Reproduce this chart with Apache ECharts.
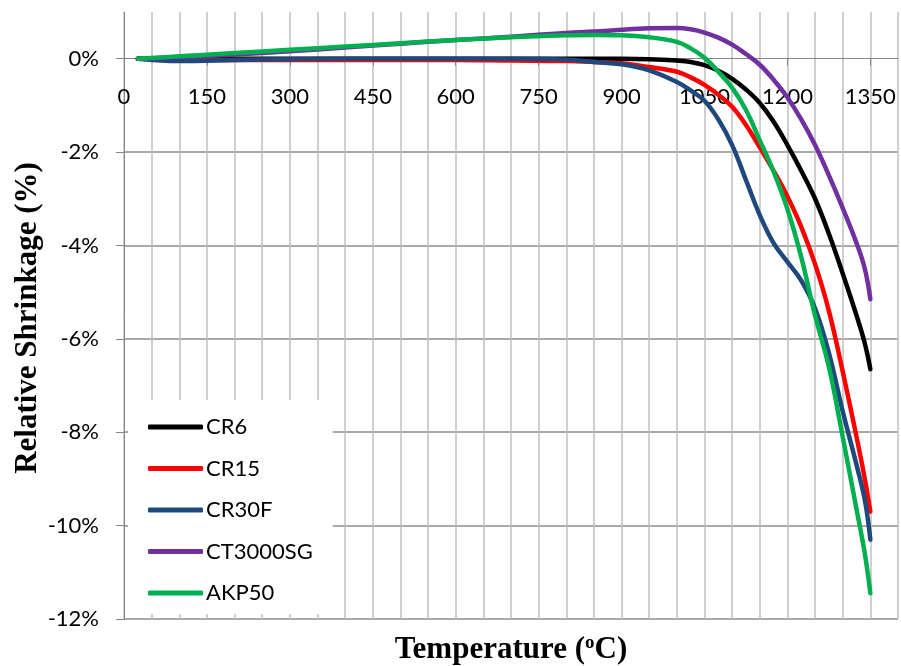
<!DOCTYPE html>
<html>
<head>
<meta charset="utf-8">
<script src="https://cdn.jsdelivr.net/npm/echarts@6/dist/echarts.min.js"></script>
<style>
html, body { margin: 0; padding: 0; background: #fff; }
#main { width: 901px; height: 666px; }
</style>
</head>
<body>
<div id="main"></div>
<script>
// temperature (oC) and relative shrinkage (%)
var temps = [25, 100, 200, 300, 400, 500, 600, 700, 800, 850, 900, 950, 1000, 1025, 1050, 1075, 1100, 1125, 1150, 1175, 1200, 1225, 1250, 1275, 1300, 1325, 1340, 1350];
var cr6 = [0, 0, 0, 0, 0, 0, 0, 0, 0, 0, 0, -0.01, -0.04, -0.07, -0.14, -0.26, -0.43, -0.66, -0.95, -1.35, -1.85, -2.4, -3.0, -3.75, -4.6, -5.5, -6.1, -6.65];
var cr15 = [0, -0.02, -0.03, -0.03, -0.03, -0.03, -0.03, -0.04, -0.05, -0.07, -0.1, -0.18, -0.28, -0.4, -0.56, -0.77, -1.03, -1.42, -1.9, -2.4, -2.95, -3.6, -4.4, -5.4, -6.7, -8.1, -9.0, -9.7];
var cr30f = [0, -0.05, -0.03, -0.01, 0, 0, 0, 0, -0.02, -0.07, -0.12, -0.25, -0.5, -0.68, -0.9, -1.3, -1.85, -2.6, -3.35, -3.95, -4.35, -4.75, -5.35, -6.3, -7.55, -8.7, -9.45, -10.3];
var ct3000sg = [0, 0.03, 0.09, 0.16, 0.24, 0.32, 0.4, 0.47, 0.55, 0.58, 0.62, 0.65, 0.66, 0.63, 0.56, 0.45, 0.3, 0.1, -0.13, -0.45, -0.83, -1.3, -1.85, -2.5, -3.2, -3.95, -4.5, -5.15];
var akp50 = [0, 0.05, 0.12, 0.19, 0.26, 0.33, 0.4, 0.46, 0.5, 0.51, 0.5, 0.46, 0.36, 0.22, 0.02, -0.28, -0.62, -1.1, -1.75, -2.42, -3.22, -4.25, -5.5, -6.6, -8.1, -9.65, -10.6, -11.45];

var xTicks = [0, 150, 300, 450, 600, 750, 900, 1050, 1200, 1350];
var yTicks = [-12, -10, -8, -6, -4, -2, 0];

var names = ['CR6', 'CR15', 'CR30F', 'CT3000SG', 'AKP50'];
var colors = ['#000000', '#ff0000', '#1f497d', '#7030a0', '#00b050'];
var values = [cr6, cr15, cr30f, ct3000sg, akp50];

var myChart = echarts.init(document.getElementById('main'));

var series = names.map(function (n, k) {
    return {
        name: n,
        type: 'line',
        xAxisIndex: 0,
        smooth: 0.4,
        showSymbol: false,
        symbol: 'none',
        data: temps.map(function (t, i) { return [t, values[k][i]]; }),
        lineStyle: { width: 4.5, color: colors[k], cap: 'round', join: 'round' },
        itemStyle: { color: colors[k] }
    };
});

// the 0% line sits 1/13 of the plot height below the top
var zeroOffset = -(666 - 12 - 47) / 13;

myChart.setOption({
    backgroundColor: '#fff',
    animation: false,
    grid: {
        left: 124,
        right: 3,
        top: 12,
        bottom: 47,
        containLabel: false,
        outerBoundsMode: 'none'
    },
    legend: {
        orient: 'vertical',
        left: 128,
        top: 400,
        padding: [16, 20, 10, 20],
        backgroundColor: '#fff',
        icon: 'roundRect',
        itemWidth: 55,
        itemHeight: 5,
        itemGap: 19.5,
        textStyle: { fontFamily: 'Lato', fontSize: 22, color: '#000', lineHeight: 20, padding: [0, 0, 0, -2] },
        data: names
    },
    xAxis: [
        {
            // grid lines every 50
            type: 'value',
            position: 'bottom',
            min: 0,
            max: 1400,
            interval: 50,
            axisLine: { show: false },
            axisTick: { show: false },
            axisLabel: { show: false },
            splitLine: { show: true, lineStyle: { color: '#bfbfbf', width: 1.5 } }
        },
        {
            // labelled axis along the 0% line
            type: 'value',
            position: 'top',
            offset: zeroOffset,
            min: 0,
            max: 1400,
            interval: 150,
            axisLine: { show: true, onZero: false, lineStyle: { color: '#868686', width: 1 } },
            axisTick: { show: true, inside: true, length: 7, customValues: xTicks, lineStyle: { color: '#868686' } },
            axisLabel: {
                inside: true,
                customValues: xTicks,
                margin: 27,
                fontFamily: 'Lato',
                fontSize: 22,
                color: '#000',
                formatter: function (v) { return v % 150 === 0 ? String(v) : ''; }
            },
            splitLine: { show: false }
        }
    ],
    yAxis: {
        type: 'value',
        min: -12,
        max: 1,
        interval: 2,
        axisLine: { show: true, onZero: false, lineStyle: { color: '#868686', width: 1 } },
        axisTick: { show: true, length: 8, customValues: yTicks, lineStyle: { color: '#868686' } },
        axisLabel: {
            customValues: yTicks,
            margin: 25,
            fontFamily: 'Lato',
            fontSize: 22,
            color: '#000',
            formatter: function (v) { return v === 1 ? '' : v + '%'; }
        },
        splitLine: { show: true, showMaxLine: false, lineStyle: { color: '#8c8c8c', width: 1.5 } }
    },
    graphic: [
        {
            type: 'text',
            x: 28,
            y: 318,
            rotation: Math.PI / 2,
            style: {
                text: 'Relative Shrinkage (%)',
                font: 'bold 31px "Liberation Serif"',
                fill: '#000',
                align: 'center',
                verticalAlign: 'middle',
                textAlign: 'center',
                textVerticalAlign: 'middle'
            }
        },
        {
            type: 'text',
            x: 511,
            y: 650,
            style: {
                text: '{a|Temperature (}{s|o}{a|C)}',
                align: 'center',
                verticalAlign: 'middle',
                textAlign: 'center',
                textVerticalAlign: 'middle',
                rich: {
                    a: { font: 'bold 31px "Liberation Serif"', fill: '#000', color: '#000', lineHeight: 32 },
                    s: { font: 'bold 19px "Liberation Serif"', fill: '#000', color: '#000', lineHeight: 32, verticalAlign: 'top', padding: [0, 0, 8, 0] }
                }
            }
        }
    ],
    series: series
});
</script>
</body>
</html>
